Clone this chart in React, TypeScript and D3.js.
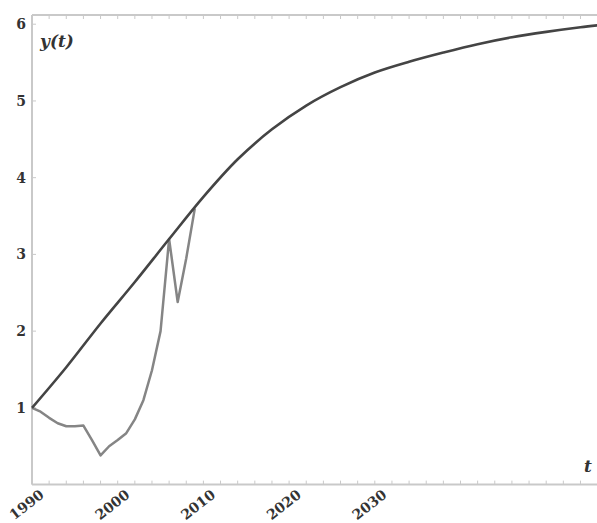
import React from "react";
import * as d3 from "d3";

// model curve
const modelYears = [1990, 1994, 1998, 2002, 2006, 2010, 2014, 2018, 2022, 2026, 2030, 2034, 2038, 2042, 2046, 2050, 2054, 2058];
const modelValues = [1.0, 1.53, 2.1, 2.64, 3.2, 3.75, 4.24, 4.63, 4.94, 5.18, 5.37, 5.51, 5.63, 5.74, 5.83, 5.9, 5.96, 6.01];

// observed series
const dataYears = [1990, 1991, 1992, 1993, 1994, 1995, 1996, 1997, 1998, 1999, 2000, 2001, 2002, 2003, 2004, 2005, 2006, 2007, 2008, 2009];
const dataValues = [1.0, 0.95, 0.87, 0.8, 0.76, 0.76, 0.77, 0.58, 0.38, 0.5, 0.58, 0.67, 0.85, 1.1, 1.49, 2.0, 3.2, 2.38, 2.95, 3.6];

const xTickLabels = [1990, 2000, 2010, 2020, 2030];
const yTickLabels = [1, 2, 3, 4, 5, 6];

export default function App() {
    const ref = React.useRef<SVGSVGElement>(null);

    React.useEffect(() => {
        const W = 597;
        const svg = d3.select(ref.current);
        svg.selectAll("*").remove();

        const x = d3.scaleLinear().domain([1990, 2060]).range([32, 32 + 70 * 8.57]);
        const y = d3.scaleLinear().domain([0, 6.12]).range([484.6, 15]);

        const frame = "#c9c9c9";
        const lab = "#333";
        const g = svg.append("g");

        // minor ticks every 2 years, bottom and top
        const minor = d3.range(1990, 2061, 2);
        g.selectAll(".bt").data(minor).join("line")
            .attr("x1", (d) => x(d)).attr("x2", (d) => x(d))
            .attr("y1", y(0)).attr("y2", y(0) - 4)
            .attr("stroke", frame).attr("stroke-width", 1);
        g.selectAll(".tt").data(minor).join("line")
            .attr("x1", (d) => x(d)).attr("x2", (d) => x(d))
            .attr("y1", y(6.12)).attr("y2", y(6.12) + 4)
            .attr("stroke", frame).attr("stroke-width", 1);
        g.selectAll(".lt").data(yTickLabels).join("line")
            .attr("x1", x(1990)).attr("x2", x(1990) + 4)
            .attr("y1", (d) => y(d)).attr("y2", (d) => y(d))
            .attr("stroke", frame).attr("stroke-width", 1);

        // frame lines
        g.append("line").attr("x1", x(1990)).attr("x2", W).attr("y1", y(0)).attr("y2", y(0))
            .attr("stroke", frame).attr("stroke-width", 2);
        g.append("line").attr("x1", x(1990)).attr("x2", W).attr("y1", y(6.12)).attr("y2", y(6.12))
            .attr("stroke", frame).attr("stroke-width", 2);
        g.append("line").attr("x1", x(1990)).attr("x2", x(1990)).attr("y1", y(0)).attr("y2", y(6.12))
            .attr("stroke", frame).attr("stroke-width", 2);

        // y labels
        g.selectAll(".yl").data(yTickLabels).join("text")
            .attr("x", 26).attr("y", (d) => y(d) + 5)
            .attr("text-anchor", "end")
            .attr("font-family", "DejaVu Serif").attr("font-weight", "bold")
            .attr("font-size", 14).attr("fill", lab)
            .text((d) => d);

        // x labels, rotated
        g.selectAll(".xl").data(xTickLabels).join("text")
            .attr("transform", (d) => `translate(${x(d) + 13},${y(0) + 12}) rotate(-38)`)
            .attr("text-anchor", "end")
            .attr("font-family", "DejaVu Serif").attr("font-weight", "bold")
            .attr("font-size", 14).attr("fill", lab)
            .text((d) => d);

        // axis labels
        g.append("text").attr("x", 40).attr("y", 47)
            .attr("font-family", "DejaVu Serif").attr("font-weight", "bold").attr("font-style", "italic")
            .attr("font-size", 17).attr("fill", lab).text("y(t)");
        g.append("text").attr("x", 584).attr("y", 472)
            .attr("font-family", "DejaVu Serif").attr("font-weight", "bold").attr("font-style", "italic")
            .attr("font-size", 17).attr("fill", lab).text("t");

        // series
        const model = modelYears.map((d, i) => [d, modelValues[i]] as [number, number]);
        const data = dataYears.map((d, i) => [d, dataValues[i]] as [number, number]);

        g.append("path").datum(data)
            .attr("fill", "none").attr("stroke", "#858585").attr("stroke-width", 2.5)
            .attr("stroke-linejoin", "round")
            .attr("d", d3.line().x((d) => x(d[0])).y((d) => y(d[1])));

        g.append("path").datum(model)
            .attr("fill", "none").attr("stroke", "#444").attr("stroke-width", 2.6)
            .attr("d", d3.line().x((d) => x(d[0])).y((d) => y(d[1])).curve(d3.curveCatmullRom.alpha(0.5)));
    }, []);

    return (
        <svg ref={ref} width={597} height={523}
            style={{ position: "absolute", left: 0, top: 0, background: "#fff" }} />
    );
}
